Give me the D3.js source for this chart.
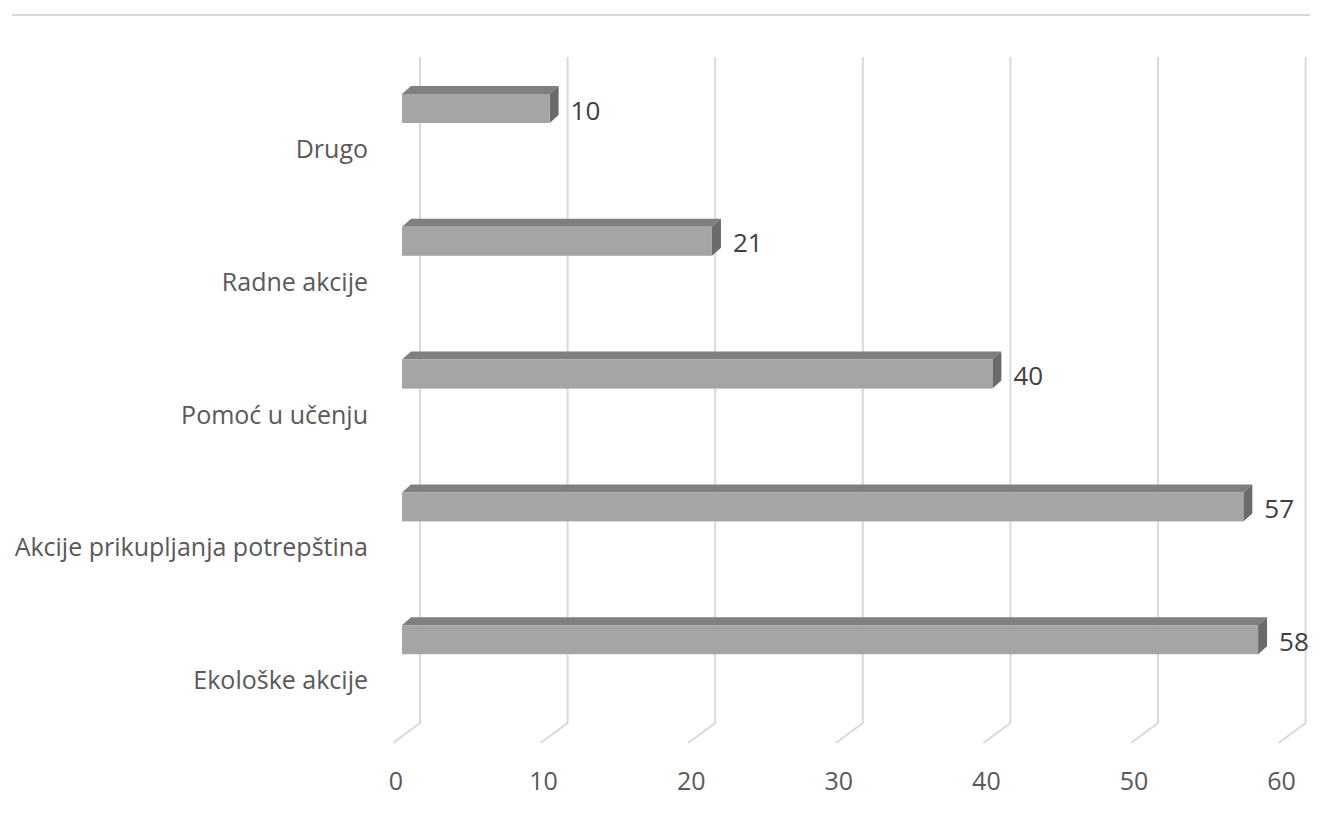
<!DOCTYPE html>
<html>
<head>
<meta charset="UTF-8">
<title>Aktivnosti</title>
<script src="https://cdn.jsdelivr.net/npm/d3@7"></script>
<style>
  body { margin: 0; background: #fff; }
  text { font-family: "Open Sans", "Noto Sans", sans-serif; fill: #595959; }
</style>
</head>
<body>
<div id="chart"></div>
<script>
const categories = ["Drugo", "Radne akcije", "Pomoć u učenju", "Akcije prikupljanja potrepština", "Ekološke akcije"];
const values = [10, 21, 40, 57, 58];
const ticks = [0, 10, 20, 30, 40, 50, 60];

const w = 1323;
const h = 814;

// depth of the 3D look (bar is the middle third of the floor depth)
const barDx = 9, barDy = -8;
const floorFrontDx = -9, floorFrontDy = 20;
const floorBackDx = 18;
const gridTop = 57, floorBack = 723;

const svg = d3.select("#chart").append("svg")
  .attr("width", w)
  .attr("height", h);

const x = d3.scaleLinear().domain([0, 60]).range([402, 402 + 60 * 14.76]);
const y = d3.scaleBand().domain(categories).range([60, 724]);
const barH = 29;

// top rule
svg.append("line")
  .attr("x1", 12).attr("x2", 1310)
  .attr("y1", 15).attr("y2", 15)
  .attr("stroke", "#d9d9d9").attr("stroke-width", 2);

// gridlines on back wall + floor
svg.append("g").selectAll("path")
  .data(ticks)
  .enter()
  .append("path")
  .attr("d", d => {
    const xb = x(d) + floorBackDx;
    return `M${xb},${gridTop} L${xb},${floorBack} L${x(d) + floorFrontDx},${floorBack + floorFrontDy}`;
  })
  .attr("fill", "none")
  .attr("stroke", "#d9d9d9")
  .attr("stroke-width", 2);

// tick labels
svg.append("g").selectAll("text")
  .data(ticks)
  .enter()
  .append("text")
  .attr("x", d => x(d) - 6)
  .attr("y", 780)
  .attr("text-anchor", "middle")
  .attr("dominant-baseline", "central")
  .style("font-size", "25px")
  .text(d => d);

// bars
const bars = svg.append("g").selectAll("g")
  .data(categories.map((c, i) => ({ cat: c, v: values[i] })))
  .enter()
  .append("g");

bars.append("path") // top face
  .attr("d", d => {
    const y0 = y(d.cat) + 34, x0 = x(0), x1 = x(d.v);
    return `M${x0},${y0} L${x0 + barDx},${y0 + barDy} L${x1 + barDx},${y0 + barDy} L${x1},${y0} Z`;
  })
  .attr("fill", "#7f7f7f");

bars.append("path") // side face
  .attr("d", d => {
    const y0 = y(d.cat) + 34, x1 = x(d.v);
    return `M${x1},${y0} L${x1 + barDx},${y0 + barDy} L${x1 + barDx},${y0 + barH + barDy} L${x1},${y0 + barH} Z`;
  })
  .attr("fill", "#6b6b6b");

bars.append("rect") // front face
  .attr("x", x(0))
  .attr("y", d => y(d.cat) + 34)
  .attr("width", d => x(d.v) - x(0))
  .attr("height", barH)
  .attr("fill", "#a5a5a5");

// value labels
bars.append("text")
  .attr("x", d => x(d.v) + barDx + 12)
  .attr("y", d => y(d.cat) + 34 + barH / 2 + 1)
  .attr("dominant-baseline", "central")
  .style("font-size", "26px")
  .style("fill", "#404040")
  .text(d => d.v);

// category labels
svg.append("g").selectAll("text")
  .data(categories)
  .enter()
  .append("text")
  .attr("x", 368)
  .attr("y", d => y(d) + 88)
  .attr("text-anchor", "end")
  .attr("dominant-baseline", "central")
  .style("font-size", "25px")
  .text(d => d);
</script>
</body>
</html>
